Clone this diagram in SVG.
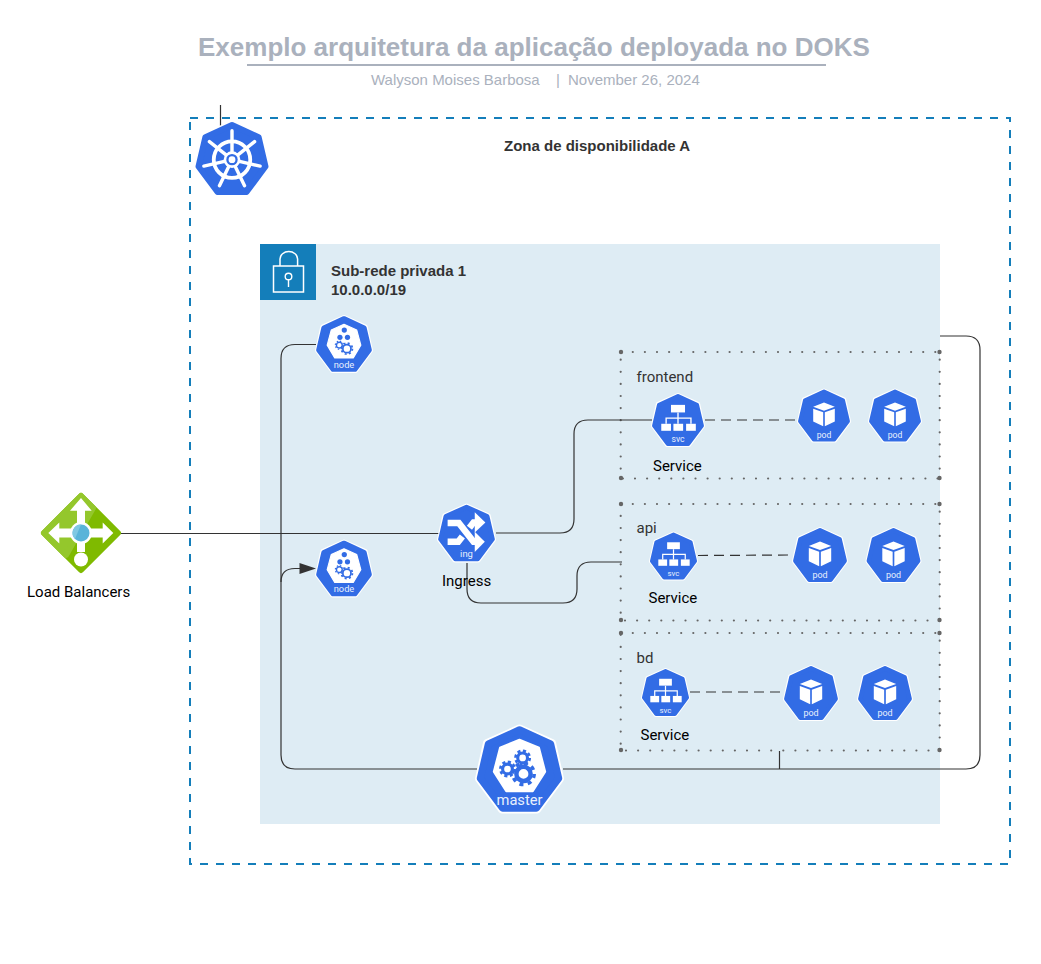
<svg xmlns="http://www.w3.org/2000/svg" xmlns:xlink="http://www.w3.org/1999/xlink" width="1041" height="964" viewBox="0 0 1041 964">
<style>
text{font-family:"Liberation Sans",Arial,sans-serif}
.rb{font-family:Roboto,"Liberation Sans",sans-serif}
.title{font-size:26px;font-weight:700;fill:#aab1bd}
.sub{font-size:15px;fill:#aab1bd}
.bold{font-size:15px;font-weight:700;fill:#333}
.lbl{font-size:15px;fill:#000}
.grp{font-size:15px;fill:#333}
.ic{font-size:16px;fill:#e8f0fd;text-anchor:middle}
.wire{fill:none;stroke:#333;stroke-width:1.2}
.dash{stroke-dasharray:10 6}
.dots{fill:none;stroke:#666;stroke-width:2.2;stroke-linecap:round;stroke-dasharray:0 12.1}
.cor{fill:#666}
.w{fill:#fff}
.b{fill:#326ce5}
</style>
<defs>
<g id="hept">
<polygon points="0,-46 37,-29.500 46,11 20,46 -20,46 -46,11 -37,-29.500" fill="#fff" stroke="#fff" stroke-width="8" stroke-linejoin="round"/>
<polygon points="0,-44 35,-28 44,10.500 19,44 -19,44 -44,10.500 -35,-28" fill="#326ce5" stroke="#326ce5" stroke-width="8" stroke-linejoin="round"/>
</g>
<g id="gear-s"><circle r="5" fill="none" stroke="#326ce5" stroke-width="2.400"/><circle r="7" fill="none" stroke="#326ce5" stroke-width="2" stroke-dasharray="2.500 3"/></g>
<g id="gear-l"><circle r="7" fill="none" stroke="#326ce5" stroke-width="3"/><circle r="9.500" fill="none" stroke="#326ce5" stroke-width="3" stroke-dasharray="3.500 4"/></g>
<g id="pod">
<use href="#hept"/>
<polygon class="w" points="0,-24 20,-16 0,-9 -20,-16"/>
<polygon class="w" points="-20,-12.500 -1.500,-6 -1.500,20 -20,11"/>
<polygon class="w" points="20,-12.500 1.500,-6 1.500,20 20,11"/>
</g>
<g id="svc">
<use href="#hept"/>
<rect class="w" x="-13" y="-28" width="26" height="14"/>
<rect class="w" x="-31" y="7" width="18" height="13"/>
<rect class="w" x="-8.500" y="7" width="18" height="13"/>
<rect class="w" x="15" y="7" width="18" height="13"/>
<path d="M0,-14V7M-22,7V-3.500H24V7" fill="none" stroke="#fff" stroke-width="2.500"/>
</g>
<g id="node">
<use href="#hept"/>
<polygon class="w" points="0,-34 22,-24 29,2 16,24 -16,24 -29,2 -22,-24" stroke="#fff" stroke-width="2" stroke-linejoin="round"/>
<circle class="b" cx="0.500" cy="-24" r="4.500"/><circle class="b" cx="-7" cy="-11.500" r="4.500"/><circle class="b" cx="6" cy="-11.500" r="4.500"/>
<use href="#gear-s" x="-8" y="2"/>
<use href="#gear-l" x="5" y="8"/>
</g>
</defs>
<g id="title">
<text class="title" x="198" y="55.500">Exemplo arquitetura da aplicação deployada no DOKS</text>
<line x1="247" y1="65" x2="826" y2="65" stroke="#aab1bd" stroke-width="2"/>
<text class="sub" x="371" y="85">Walyson Moises Barbosa</text>
<text class="sub" x="556" y="85">|</text>
<text class="sub" x="568" y="85">November 26, 2024</text>
</g>
<g id="zone-a">
<rect x="190" y="118" width="820" height="746" fill="none" stroke="#147eba" stroke-width="2" stroke-dasharray="8 8"/>
<text class="bold" x="504" y="150.500">Zona de disponibilidade A</text>
</g>
<g id="subnet">
<rect x="260" y="244" width="680" height="580" fill="#deecf4"/>
<rect x="260" y="244" width="56" height="56" fill="#147eba"/>
<path d="M280,266V259a8.800,7.500 0 0 1 17.600,0V266" fill="none" stroke="#fff" stroke-width="1.500"/>
<rect x="273.500" y="266" width="30" height="26" fill="none" stroke="#fff" stroke-width="1.500"/>
<circle cx="288.500" cy="276.500" r="3.300" fill="none" stroke="#fff" stroke-width="1.400"/>
<line x1="288.500" y1="280" x2="288.500" y2="287" stroke="#fff" stroke-width="1.400"/>
<text class="bold" x="331" y="276">Sub-rede privada 1</text>
<text class="bold" x="331" y="295">10.0.0.0/19</text>
</g>
<g id="group-frontend">
<rect class="dots" x="620.700" y="352" width="319" height="126.500"/>
<circle class="cor" cx="621" cy="352" r="2.200"/><circle class="cor" cx="939.500" cy="352" r="2.200"/><circle class="cor" cx="621" cy="478" r="2.200"/><circle class="cor" cx="939.500" cy="478" r="2.200"/>
<text class="grp rb" x="636.500" y="381.500">frontend</text>
</g>
<g id="group-api">
<rect class="dots" x="620.700" y="504" width="319" height="116.500"/>
<circle class="cor" cx="621" cy="504" r="2.200"/><circle class="cor" cx="939.500" cy="504" r="2.200"/><circle class="cor" cx="621" cy="620" r="2.200"/><circle class="cor" cx="939.500" cy="620" r="2.200"/>
<text class="grp rb" x="636.500" y="533">api</text>
</g>
<g id="group-bd">
<rect class="dots" x="620.700" y="633" width="319" height="117.500"/>
<circle class="cor" cx="621" cy="633" r="2.200"/><circle class="cor" cx="939.500" cy="633" r="2.200"/><circle class="cor" cx="621" cy="750" r="2.200"/><circle class="cor" cx="939.500" cy="750" r="2.200"/>
<text class="grp rb" x="636.500" y="663">bd</text>
</g>
<g id="connectors">
<path class="wire" d="M220.500,105V127"/>
<path class="wire" d="M121,533.500H440"/>
<path class="wire" d="M496,533H560Q574,533 574,519V434Q574,420 588,420H652"/>
<path class="wire" d="M467,563V589Q467,603 481,603H563Q577,603 577,589V576Q577,562 591,562H622"/>
<path class="wire dash" d="M705,420H797"/>
<path class="wire dash" d="M698,555.500L792,555"/>
<path class="wire dash" d="M690,692H783"/>
<path class="wire" d="M316,344.500H295Q281,344.500 281,358.500V755Q281,769 295,769H477"/>
<path class="wire" d="M281,582Q281,568.500 295,568.500H300"/>
<polygon points="316,568.500 299.500,563 299.500,574" fill="#333"/>
<path class="wire" d="M563,769H966Q980,769 980,755V350Q980,336 966,336H940"/>
<path class="wire" d="M779.500,751V769"/>
</g>
<g id="load-balancers">
<polygon points="81,496 118,533 81,570 44,533" fill="#7fba00" stroke="#7fba00" stroke-width="6" stroke-linejoin="round"/>
<path d="M81,496L44,533L66,555L93,508Z" fill="#94c72c" stroke="#94c72c" stroke-width="6" stroke-linejoin="round"/>
<path d="M81,498L91.700,510.700H85V528.500H102.700V522.500L113.300,533L102.700,543.500V537.500H85V552H77V537.500H59.300V543.500L48.300,533L59.300,522.500V528.500H77V510.700H70Z" fill="#fff"/>
<circle class="w" cx="81" cy="533" r="11"/>
<circle cx="81" cy="533" r="8.500" fill="#59b4d9"/>
<path d="M81,524.500A8.500,8.500 0 0 0 75,539Z" fill="#7fc8e3"/>
<circle class="w" cx="81" cy="559.500" r="7"/>
<text class="lbl rb" x="27" y="597">Load Balancers</text>
</g>
<g id="kubernetes" transform="translate(232 158.500) scale(.76)">
<use href="#hept"/>
<g transform="translate(0 1.500)">
<circle r="24" fill="none" stroke="#fff" stroke-width="5"/>
<path d="M0,0V-38M0,0L29.700,-23.700M0,0L37,8.500M0,0L16.500,34.200M0,0L-16.500,34.200M0,0L-37,8.500M0,0L-29.700,-23.700" stroke="#fff" stroke-width="4.500" stroke-linecap="round"/>
<circle class="w" r="11"/><circle r="7.500" class="b"/><circle class="w" r="4.500"/>
</g>
</g>
<g id="node-1" transform="translate(344 344) scale(.58)"><use href="#node"/><text class="ic rb" x="0" y="41">node</text></g>
<g id="node-2" transform="translate(344 568.500) scale(.58)"><use href="#node"/><text class="ic rb" x="0" y="41">node</text></g>
<g id="ingress">
<g transform="translate(466.500 533) scale(.59)">
<use href="#hept"/>
<path d="M-32,-17H-13L12,15H18" fill="none" stroke="#fff" stroke-width="11"/>
<polygon class="w" points="14,-2 31,15 14,32"/>
<path d="M-32,15H-14L-7,6M5,-9L12,-18H18" fill="none" stroke="#fff" stroke-width="11"/>
<polygon class="w" points="14,-35 32,-18 14,-1"/>
<text class="ic rb" x="0" y="40">ing</text>
</g>
<text class="lbl rb" x="442" y="586">Ingress</text>
</g>
<g id="svc-frontend">
<g transform="translate(678 420) scale(.54)"><use href="#svc"/><text class="ic rb" x="0" y="41">svc</text></g>
<text class="lbl rb" x="653" y="471">Service</text>
</g>
<g id="pod-frontend-1" transform="translate(824 415.500) scale(.54)"><use href="#pod"/><text class="ic rb" x="0" y="41">pod</text></g>
<g id="pod-frontend-2" transform="translate(895 415.500) scale(.54)"><use href="#pod"/><text class="ic rb" x="0" y="41">pod</text></g>
<g id="svc-api">
<g transform="translate(673.500 556) scale(.49)"><use href="#svc"/><text class="ic rb" x="0" y="41">svc</text></g>
<text class="lbl rb" x="648.500" y="603">Service</text>
</g>
<g id="pod-api-1" transform="translate(820 555) scale(.56)"><use href="#pod"/><text class="ic rb" x="0" y="41">pod</text></g>
<g id="pod-api-2" transform="translate(893.500 555) scale(.56)"><use href="#pod"/><text class="ic rb" x="0" y="41">pod</text></g>
<g id="svc-bd">
<g transform="translate(665.500 692.500) scale(.49)"><use href="#svc"/><text class="ic rb" x="0" y="41">svc</text></g>
<text class="lbl rb" x="640.500" y="740">Service</text>
</g>
<g id="pod-bd-1" transform="translate(811 693) scale(.56)"><use href="#pod"/><text class="ic rb" x="0" y="41">pod</text></g>
<g id="pod-bd-2" transform="translate(885 693) scale(.56)"><use href="#pod"/><text class="ic rb" x="0" y="41">pod</text></g>
<g id="master" transform="translate(519.500 769) scale(.89)">
<use href="#hept"/>
<polygon class="w" points="0,-33 22,-24 29,3 15,25 -15,25 -29,3 -22,-24" stroke="#fff" stroke-width="2" stroke-linejoin="round"/>
<circle r="8" cx="4.500" cy="5.500" fill="none" stroke="#326ce5" stroke-width="5"/>
<circle r="12" cx="4.500" cy="5.500" fill="none" stroke="#326ce5" stroke-width="4" stroke-dasharray="4.500 4.900"/>
<circle r="5.500" cx="-13.500" cy="0" fill="none" stroke="#326ce5" stroke-width="3.500"/>
<circle r="8" cx="-13.500" cy="0" fill="none" stroke="#326ce5" stroke-width="3" stroke-dasharray="3.500 2.800"/>
<circle r="5.500" cx="3.500" cy="-12.500" fill="none" stroke="#326ce5" stroke-width="3.500"/>
<circle r="8" cx="3.500" cy="-12.500" fill="none" stroke="#326ce5" stroke-width="3" stroke-dasharray="3.500 2.800"/>
<text class="ic rb" x="0" y="40" style="font-size:16.500px">master</text>
</g>
</svg>
